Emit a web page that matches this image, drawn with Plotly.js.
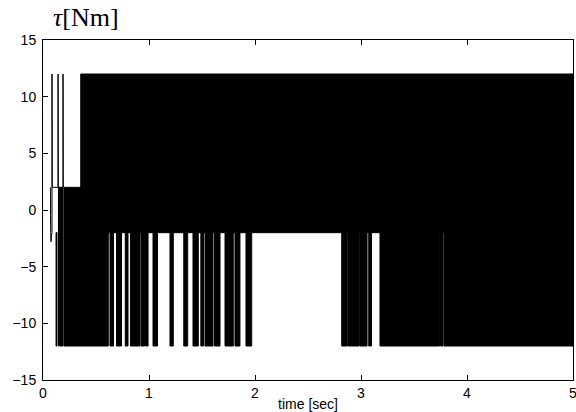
<!DOCTYPE html>
<html>
<head>
<meta charset="utf-8">
<script src="https://cdn.plot.ly/plotly-3.0.1.min.js"></script>
<style>html,body{margin:0;padding:0;background:#fff;}#chart{width:576px;height:412px;}</style>
</head>
<body>
<div id="chart"></div>
<script>
// Torque switching levels
var levelHigh = 12;
var levelMid = -2;
var levelEarlyTop = 2;
var levelLow = -12;

// Dense switching band between levelMid and levelHigh
var bandStart = 0.356;
var bandEnd = 5.0;

// Early dense blocks (between levelLow and levelEarlyTop), seconds
var earlyStart = [0.146, 0.165, 0.198];
var earlyEnd   = [0.157, 0.189, 0.356];

// Intervals where the torque also reaches the low level (between levelLow and levelMid), seconds
var lowStart = [0.123, 0.356, 0.632, 0.693, 0.776, 0.825, 0.925, 0.967, 1.038, 1.198, 1.328, 1.415, 1.489, 1.528, 1.618, 1.717, 1.811, 1.915, 2.818, 2.875, 2.988, 3.073, 3.179, 3.750, 3.783];
var lowEnd   = [0.132, 0.616, 0.665, 0.741, 0.802, 0.915, 0.958, 0.991, 1.080, 1.229, 1.365, 1.465, 1.514, 1.604, 1.670, 1.795, 1.858, 1.969, 2.868, 2.981, 3.057, 3.099, 3.741, 3.774, 5.0];

// Start-up transient (time, torque)
var startT = [0.072, 0.070, 0.071, 0.073, 0.076, 0.080, 0.085, 0.085, 0.087, 0.087, 0.142, 0.142, 0.144, 0.144, 0.189, 0.189, 0.191, 0.191];
var startY = [2.0, 1.2, -0.5, -2.0, -2.8, -2.2, -2.0, 12, 12, 2, 2, 12, 12, 2, 2, 12, 12, 2];

var xTicks = [0, 1, 2, 3, 4, 5];
var yTicks = [-15, -10, -5, 0, 5, 10, 15];

function blocks(starts, ends, bottom, top) {
  var x = [], y = [];
  for (var i = 0; i < starts.length; i++) {
    x.push(starts[i], ends[i], ends[i], starts[i], starts[i], null);
    y.push(bottom, bottom, top, top, bottom, null);
  }
  return {x: x, y: y};
}

var band = blocks([bandStart], [bandEnd], levelMid, levelHigh);
var early = blocks(earlyStart, earlyEnd, levelLow, levelEarlyTop);
var low = blocks(lowStart, lowEnd, levelLow, levelMid);

function fillTrace(b) {
  return {x: b.x, y: b.y, type: 'scatter', mode: 'lines', fill: 'toself',
          fillcolor: '#000', line: {color: '#000', width: 1}, hoverinfo: 'skip', showlegend: false};
}

var traces = [
  fillTrace(band), fillTrace(early), fillTrace(low),
  {x: startT, y: startY, type: 'scatter', mode: 'lines', line: {color: '#000', width: 1}, showlegend: false}
];

var axisCommon = {
  showgrid: false, zeroline: false, showline: true, mirror: 'ticks',
  linecolor: '#000', linewidth: 1, ticks: 'inside', ticklen: 5, tickcolor: '#000',
  ticklabeloverflow: 'allow',
  tickfont: {family: 'Liberation Sans, Arial, sans-serif', size: 14, color: '#000'}
};

var layout = {
  width: 576, height: 412,
  margin: {l: 43, r: 3, t: 40, b: 32},
  paper_bgcolor: '#fff', plot_bgcolor: '#fff',
  title: {text: '<i>τ</i>[Nm]', font: {family: 'Liberation Serif, Times New Roman, serif', size: 26, color: '#000'},
          x: 53 / 576, xref: 'container', xanchor: 'left', y: 1 - 17 / 412, yref: 'container', yanchor: 'middle'},
  xaxis: Object.assign({}, axisCommon, {range: [0, 5], tickvals: xTicks, ticktext: xTicks.map(String),
    ticklabelstandoff: 0,
    title: {text: 'time [sec]', font: {family: 'Liberation Sans, Arial, sans-serif', size: 14, color: '#000'}, standoff: 0}}),
  yaxis: Object.assign({}, axisCommon, {range: [-15, 15], tickvals: yTicks, ticklabelstandoff: 3,
    ticktext: yTicks.map(function(v){return v < 0 ? '\u2212' + Math.abs(v) : String(v);})}),
  showlegend: false
};

Plotly.newPlot('chart', traces, layout, {displayModeBar: false, staticPlot: true});
</script>
</body>
</html>
